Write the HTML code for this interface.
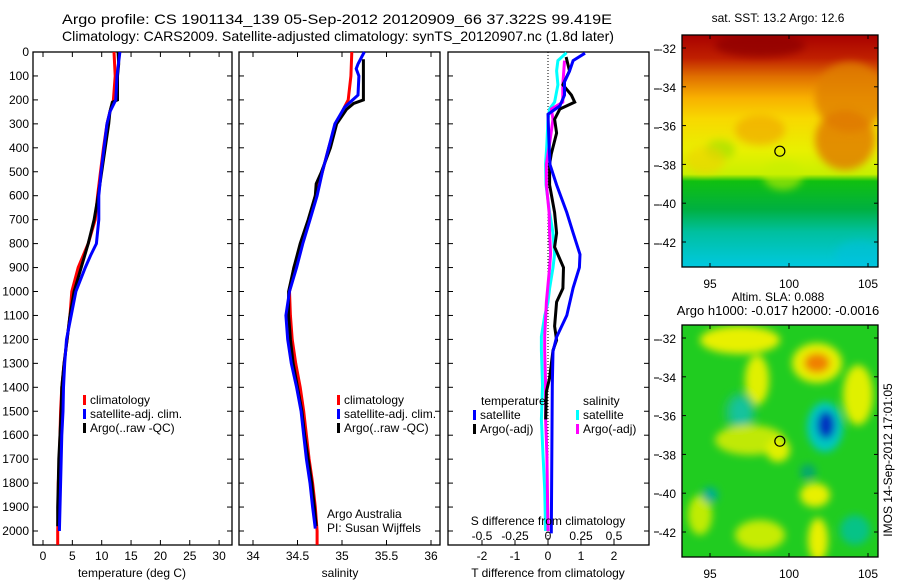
<!DOCTYPE html>
<html><head><meta charset="utf-8">
<style>
body{margin:0;background:#fff;}
svg{display:block;font-family:"Liberation Sans",sans-serif;}
text{font-size:12px;fill:#000;}
</style></head>
<body>
<svg id="fig" width="900" height="580" viewBox="0 0 900 580" xmlns="http://www.w3.org/2000/svg">
<defs>
<linearGradient id="sstg" x1="0" y1="0" x2="0" y2="1">
<stop offset="0" stop-color="#a80000"/><stop offset="0.1" stop-color="#c02000"/>
<stop offset="0.18" stop-color="#e07000"/><stop offset="0.27" stop-color="#f8b000"/>
<stop offset="0.36" stop-color="#f8d800"/><stop offset="0.5" stop-color="#e8f000"/>
<stop offset="0.6" stop-color="#c8f000"/><stop offset="0.63" stop-color="#10c010"/>
<stop offset="0.75" stop-color="#00b040"/><stop offset="0.85" stop-color="#00c0a0"/>
<stop offset="1" stop-color="#00c8e0"/></linearGradient>
<filter id="blur" x="-50%" y="-50%" width="200%" height="200%"><feGaussianBlur stdDeviation="4"/></filter>
</defs>
<text x="337" y="24" text-anchor="middle" textLength="550" lengthAdjust="spacingAndGlyphs" style="font-size:14px">Argo profile: CS 1901134_139 05-Sep-2012 20120909_66 37.322S 99.419E</text>
<text x="338" y="41" text-anchor="middle" textLength="552" lengthAdjust="spacingAndGlyphs" style="font-size:14px">Climatology: CARS2009. Satellite-adjusted climatology: synTS_20120907.nc (1.8d later)</text>
<g id="p1"></g>
<g id="p2"></g>
<g id="p3"></g>
<g id="m1"></g>
<g id="m2"></g>
<text x="0" y="0" transform="translate(892,460) rotate(-90)" text-anchor="middle">IMOS 14-Sep-2012 17:01:05</text>
</svg>
<script>
// depth levels (m)
const tDepthRed=[0,100,200,250,300,400,500,600,700,800,900,1000,1100,1200,1300,1400,1500,1600,1700,1800,1900,2000,2058];
const tempRed=[12.1,12.3,12.0,11.4,10.9,10.3,9.8,9.3,8.9,7.7,6.0,4.9,4.6,4.1,3.6,3.2,3.0,2.9,2.8,2.6,2.6,2.5,2.5];
const tDepthBlue=[0,100,200,250,300,400,500,600,700,800,850,900,1000,1100,1200,1300,1400,1500,1600,1700,1800,1900,2000];
const tempBlue=[13.1,12.6,12.4,11.4,10.9,10.4,9.9,9.5,9.5,9.1,8.1,7.2,5.6,4.8,4.0,3.7,3.5,3.4,3.2,3.1,3.0,2.9,2.8];
const tDepthArgo=[0,50,100,200,210,250,300,400,500,600,700,800,900,1000,1100,1200,1300,1400,1500,1600,1700,1800,1900,1980];
const tempArgo=[12.8,12.9,12.7,12.7,11.8,11.4,11.2,10.6,10.0,9.4,8.7,7.7,6.5,5.3,4.6,4.1,3.6,3.2,3.1,2.9,2.7,2.6,2.5,2.5];
const sDepthRed=[0,100,200,250,300,400,500,600,700,800,900,1000,1100,1200,1300,1400,1500,1600,1700,1800,1900,2000,2058];
const salRed=[35.11,35.10,35.07,35.0,34.93,34.85,34.78,34.70,34.63,34.55,34.46,34.41,34.42,34.44,34.48,34.53,34.57,34.60,34.63,34.67,34.70,34.72,34.72];
const sDepthBlue=[0,50,70,100,180,200,230,300,400,500,600,700,800,900,1000,1100,1200,1300,1400,1500,1600,1700,1800,1900,1990];
const salBlue=[35.25,35.18,35.16,35.19,35.18,35.12,35.03,34.92,34.85,34.78,34.72,34.64,34.56,34.49,34.41,34.37,34.39,34.43,34.49,34.54,34.57,34.60,34.64,34.67,34.70];
const sDepthArgo=[30,200,215,240,300,400,500,550,600,700,800,900,1000,1100,1200,1300,1400,1500,1600,1700,1800,1900,1980];
const salArgo=[35.24,35.24,35.13,35.05,34.94,34.87,34.77,34.71,34.70,34.62,34.53,34.46,34.40,34.40,34.42,34.45,34.50,34.55,34.58,34.62,34.66,34.69,34.71];
// differences
const dDepthTS=[5,36,80,125,180,225,260,380,470,555,670,755,845,900,985,1100,1190,1250,1390,2010];
const dTempSat=[1.12,0.76,0.65,0.5,0.5,0.36,0,0.03,0.06,0.26,0.57,0.76,0.97,0.95,0.76,0.57,0.26,0.15,0.13,0.1];
const dDepthTA=[21,79,137,180,209,238,281,338,425,468,555,670,756,814,900,987,1044,1145,1203,1246,1361,1418,1534];
const dTempArgo=[0.55,0.65,0.45,0.71,0.81,0.36,0.2,0.26,0.1,0.05,0.05,0.2,0.26,0.2,0.47,0.45,0.26,0.2,0.26,0.15,0.05,-0.05,-0.07];
const dDepthSS=[3,36,79,137,209,238,281,382,468,555,670,756,843,900,987,1044,1102,1188,1246,1390,1534,1680,1825,2000];
const dSalSat=[0.14,0.075,0.065,0.075,0.05,0.012,0,-0.008,-0.018,-0.015,0.012,0.038,0.05,0.038,0.012,0,-0.025,-0.05,-0.05,-0.042,-0.05,-0.038,-0.025,-0.018];
const dDepthSA=[36,79,137,209,238,281,382,468,555,670,756,843,900,1044,1188,1246,1390,1534,1680,2000];
const dSalArgo=[0.125,0.12,0.112,0.112,0.025,0.038,0.012,-0.012,-0.012,0.008,0.012,0.02,0.012,-0.012,-0.025,-0.025,-0.018,-0.018,-0.008,0];
const tempTicks=[0,5,10,15,20,25,30];
const salTicks=[34,34.5,35,35.5,36];
const tDiffTicks=[-2,-1,0,1,2];
const sDiffTicks=["-0.5","-0.25","0","0.25","0.5"];
const depthTicks=[0,100,200,300,400,500,600,700,800,900,1000,1100,1200,1300,1400,1500,1600,1700,1800,1900,2000];

const NS="http://www.w3.org/2000/svg";
function mk(parent,tag,attrs,txt){const e=document.createElementNS(NS,tag);for(const k in attrs)e.setAttribute(k,attrs[k]);if(txt!==undefined)e.textContent=txt;parent.appendChild(e);return e;}
const TOP=52,BOT=545;
const yD=d=>TOP+d*0.2395;
function frame(g,x0,x1,labels){
  const r=mk(g,'rect',{x:x0,y:TOP,width:x1-x0,height:BOT-TOP,fill:'none',stroke:'#000','stroke-width':1.3});
  
  
  depthTicks.forEach(d=>{
    const y=yD(d);
    mk(g,'line',{x1:x0,x2:x0+5,y1:y,y2:y,stroke:'#000'});
    mk(g,'line',{x1:x1-5,x2:x1,y1:y,y2:y,stroke:'#000'});
    if(labels){const t=mk(g,'text',{x:x0-4,y:y+4,'text-anchor':'end'},String(d));
      
      }
  });
}
function xticks(g,vals,sx,labelY,bottomOnly){
  vals.forEach(v=>{const x=sx(+v);
    mk(g,'line',{x1:x,x2:x,y1:BOT,y2:BOT-5,stroke:'#000'});
    if(!bottomOnly)mk(g,'line',{x1:x,x2:x,y1:TOP,y2:TOP+5,stroke:'#000'});
    const t=mk(g,'text',{x:x,y:labelY,'text-anchor':'middle'},String(v));
    
    
  });
}
function series(g,depths,vals,sx,color,name){
  const p2=depths.map((d,i)=>sx(vals[i]).toFixed(1)+','+yD(d).toFixed(1)).join(' ');
  const l=mk(g,'polyline',{points:p2,fill:'none',stroke:color,'stroke-width':3,'stroke-linejoin':'miter'});
  
  
}
function legend(g,x,y,items){
  items.forEach((it,i)=>{
    mk(g,'rect',{x:x,y:y+i*14-9,width:3,height:10,fill:it[0]});
    const t=mk(g,'text',{x:x+7,y:y+i*14},it[1]);
    
    
  });
}
// Panel 1 temperature
const p1=document.getElementById('p1');
const sxT=v=>43+v*5.87;
frame(p1,33,232,true);
xticks(p1,tempTicks,sxT,560);
series(p1,tDepthRed,tempRed,sxT,'#ff0000','climatology-temp-line');
series(p1,tDepthArgo,tempArgo,sxT,'#000000','argo-temp-line');
series(p1,tDepthBlue,tempBlue,sxT,'#0000ff','satellite-temp-line');
legend(p1,83,404,[['#ff0000','climatology'],['#0000ff','satellite-adj. clim.'],['#000','Argo(..raw -QC)']]);
let t=mk(p1,'text',{x:132,y:577,'text-anchor':'middle'},'temperature (deg C)');


// Panel 2 salinity
const p2=document.getElementById('p2');
const sxS=v=>253+(v-34)*89;
frame(p2,239,440,false);
xticks(p2,salTicks,sxS,560);
series(p2,sDepthRed,salRed,sxS,'#ff0000','climatology-salinity-line');
series(p2,sDepthArgo,salArgo,sxS,'#000000','argo-salinity-line');
series(p2,sDepthBlue,salBlue,sxS,'#0000ff','satellite-salinity-line');
legend(p2,337,404,[['#ff0000','climatology'],['#0000ff','satellite-adj. clim.'],['#000','Argo(..raw -QC)']]);
t=mk(p2,'text',{x:340,y:577,'text-anchor':'middle'},'salinity');


t=mk(p2,'text',{x:327,y:518},'Argo Australia');


t=mk(p2,'text',{x:327,y:532},'PI: Susan Wijffels');


// Panel 3 differences
const p3=document.getElementById('p3');
const sxD=v=>548+v*33;
const sxDS=v=>548+v*132;
frame(p3,448,649,false);
mk(p3,'line',{x1:548,x2:548,y1:TOP,y2:BOT,stroke:'#000','stroke-dasharray':'1,2'});
xticks(p3,tDiffTicks,sxD,560,true);
sDiffTicks.forEach(v=>{const tt=mk(p3,'text',{x:sxDS(+v),y:540,'text-anchor':'middle'},v);
  
  });
[50,89,128,166,205,244,340,378,416,455,494,532].forEach(y=>mk(p3,'line',{x1:654,x2:659,y1:y,y2:y,stroke:'#000'}));
series(p3,dDepthSS,dSalSat,sxDS,'#00ffff','salinity-satellite-diff-line');
series(p3,dDepthSA,dSalArgo,sxDS,'#ff00ff','salinity-argo-diff-line');
series(p3,dDepthTA,dTempArgo,sxD,'#000000','temperature-argo-diff-line');
series(p3,dDepthTS,dTempSat,sxD,'#0000ff','temperature-satellite-diff-line');
t=mk(p3,'text',{x:481,y:405},'temperature');


t=mk(p3,'text',{x:583,y:405},'salinity');


legend(p3,473,419,[['#0000ff','satellite'],['#000','Argo(-adj)']]);
legend(p3,576,419,[['#00ffff','satellite'],['#ff00ff','Argo(-adj)']]);
t=mk(p3,'text',{x:548,y:525,'text-anchor':'middle'},'S difference from climatology');


t=mk(p3,'text',{x:548,y:577,'text-anchor':'middle'},'T difference from climatology');


// Maps
const lonTicks=[95,100,105];
const latTicks=[-32,-34,-36,-38,-40,-42];
const argoLon=99.42, argoLat=-37.32;
function mapAxes(g,y0,title1,title2,blobs,fill){
  const X0=682,X1=878,Y1=y0+232;
  const sx=lon=>710+(lon-95)*15.8;
  const sy=lat=>y0+13+(-32-lat)*19.4;
  mk(g,'rect',{x:X0,y:y0,width:X1-X0,height:232,fill:fill});
  const cp=mk(g,'clipPath',{id:'cp'+y0});mk(cp,'rect',{x:X0,y:y0,width:X1-X0,height:232});
  const outer=mk(g,'g',{'clip-path':'url(#cp'+y0+')'});
  const bg=mk(outer,'g',{filter:'url(#blur)'});
  blobs.forEach(b=>mk(bg,'ellipse',{cx:b[0],cy:y0+b[1],rx:b[2],ry:b[3],fill:b[4],opacity:b[5]}));
  mk(g,'rect',{x:X0,y:y0,width:X1-X0,height:232,fill:'none',stroke:'#000','stroke-width':1.3});
  lonTicks.forEach(v=>{const x=sx(v);mk(g,'line',{x1:x,x2:x,y1:Y1,y2:Y1-4,stroke:'#000'});mk(g,'line',{x1:x,x2:x,y1:y0,y2:y0+4,stroke:'#000'});
    const tt=mk(g,'text',{x:x,y:Y1+21,'text-anchor':'middle'},String(v));
    
    });
  latTicks.forEach(v=>{const y=sy(v);mk(g,'line',{x1:X0,x2:X0+4,y1:y,y2:y,stroke:'#000'});mk(g,'line',{x1:X1-4,x2:X1,y1:y,y2:y,stroke:'#000'});
    const tt=mk(g,'text',{x:X0-6,y:y+5,'text-anchor':'end'},String(v));
    
    });
  const c=mk(g,'circle',{cx:sx(argoLon),cy:sy(argoLat),r:5,fill:'none',stroke:'#000','stroke-width':1.2});
  
  
  let tt=mk(g,'text',{x:778,y:title2?y0-24:y0-13,'text-anchor':'middle'},title1);
  
  
  if(title2){tt=mk(g,'text',{x:778,y:y0-10,'text-anchor':'middle',style:'font-size:13px'},title2);
    
    }
}
mapAxes(document.getElementById('m1'),35,'sat. SST: 13.2 Argo: 12.6',null,[
 [760,10,45,12,'#900000',0.8],[850,62,35,35,'#e08000',0.8],[845,105,30,30,'#e07800',0.8],[760,95,25,15,'#f0a000',0.6],
 [720,115,15,10,'#a0e000',0.7],[705,125,20,14,'#f0d000',0.6],[783,140,20,15,'#c8f000',0.6],[860,220,25,15,'#00c0e0',0.5]
],'url(#sstg)');
mapAxes(document.getElementById('m2'),325,'Altim. SLA: 0.088','Argo h1000: -0.017 h2000: -0.0016',[
 [740,15,40,14,'#e8f000',1],[817,38,25,20,'#e8f000',1],[817,38,13,10,'#f08000',1],[757,55,12,25,'#e0f000',1],
 [858,70,15,30,'#e0f000',1],[825,102,18,25,'#00c8c0',1],[826,100,9,14,'#0030c0',1],[741,87,10,14,'#00c8e0',1],
 [740,87,16,20,'#20c080',0.7],[750,115,35,15,'#e8f000',0.8],[778,125,12,12,'#e0f000',1],[815,170,15,12,'#e8f000',1],
 [700,190,12,20,'#d0f000',0.9],[760,210,25,15,'#d8f000',0.9],[818,215,10,22,'#e8f000',1],[710,170,8,8,'#00b090',1],
 [855,205,15,15,'#00c0a0',0.8],[808,147,8,8,'#00a080',0.8]
],'#20cc20');
</script>
</body></html>
